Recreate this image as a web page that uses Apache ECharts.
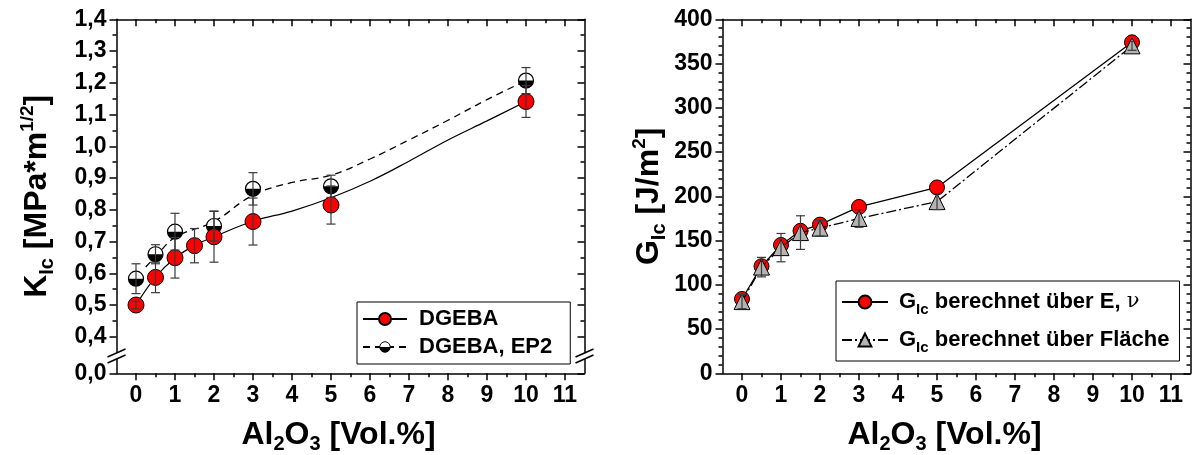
<!DOCTYPE html>
<html>
<head>
<meta charset="utf-8">
<script src="https://cdn.jsdelivr.net/npm/echarts@6/dist/echarts.min.js"></script>
<style>
  html, body { margin: 0; padding: 0; background: #fff; }
  #chart { width: 1192px; height: 455px; }
</style>
</head>
<body>
<div id="chart"></div>
<script>
// ---- axis ticks ----
const xMajor = [0, 1, 2, 3, 4, 5, 6, 7, 8, 9, 10, 11];
const xMinor = [0.5, 1.5, 2.5, 3.5, 4.5, 5.5, 6.5, 7.5, 8.5, 9.5, 10.5];
const kZero = 0.285;               // where the "0,0" tick sits below the axis break
const kMajor = [0.4, 0.5, 0.6, 0.7, 0.8, 0.9, 1.0, 1.1, 1.2, 1.3, 1.4];
const kMinor = [0.45, 0.55, 0.65, 0.75, 0.85, 0.95, 1.05, 1.15, 1.25, 1.35];
const gMajor = [0, 50, 100, 150, 200, 250, 300, 350, 400];
const gMinor = [10, 20, 30, 40, 60, 70, 80, 90, 110, 120, 130, 140, 160, 170, 180, 190,
  210, 220, 230, 240, 260, 270, 280, 290, 310, 320, 330, 340, 360, 370, 380, 390];

// ---- K_Ic (MPa*m^1/2) ----
const conc = [0, 0.5, 1, 1.5, 2, 3, 5, 10];
const kDgeba = [0.500, 0.587, 0.649, 0.687, 0.715, 0.763, 0.815, 1.141];
const kDgebaErr = [0.012, 0.048, 0.064, 0.054, 0.080, 0.074, 0.060, 0.050];
const concEp2 = [0, 0.5, 1, 2, 3, 5, 10];
const kEp2 = [0.583, 0.660, 0.731, 0.749, 0.866, 0.874, 1.207];
const kEp2Err = [0.047, 0.030, 0.058, 0.047, 0.051, 0.035, 0.041];

// trend curves through the K_Ic data
const fitDgebaX = [0, 0.5, 1, 1.5, 2, 3, 4, 5, 6, 7, 8, 9, 10];
const fitDgebaY = [0.500, 0.588, 0.648, 0.688, 0.715, 0.764, 0.796, 0.838, 0.890, 0.953, 1.020, 1.080, 1.141];
const fitEp2X = [0.25, 0.5, 1, 2, 3, 4, 5, 6, 7, 8, 9, 10];
const fitEp2Y = [0.620, 0.652, 0.713, 0.763, 0.846, 0.886, 0.909, 0.960, 1.020, 1.082, 1.147, 1.207];

// ---- G_Ic (J/m^2) ----
const gEv = [84, 121, 145, 161, 168, 188, 210, 374];
const gArea = [81, 120, 142, 159, 164, 175, 194, 370];
const gAreaErr = [8, 11, 16, 19, 9, 10, 9, 5];

const FONT = '"Liberation Sans", Arial, sans-serif';
const pairs = (xs, ys) => xs.map((x, i) => [x, ys[i]]);
const triples = (xs, ys, es) => xs.map((x, i) => [x, ys[i], es[i]]);
const comma = v => v.toFixed(1).replace('.', ',');

// half-filled legend icon: white upper half, black lower half
const halfSvg = "<svg xmlns='http://www.w3.org/2000/svg' width='32' height='32' viewBox='0 0 32 32'>" +
  "<path d='M2 16 A14 14 0 0 1 30 16 Z' fill='white'/>" +
  "<path d='M2 16 A14 14 0 0 0 30 16 Z' fill='black'/>" +
  "<circle cx='16' cy='16' r='14' fill='none' stroke='black' stroke-width='2.5'/></svg>";
const halfSymbol = 'image://data:image/svg+xml;charset=utf-8,' + encodeURIComponent(halfSvg);

// half-filled data marker drawn at the data coordinate
function halfMarker(params, api) {
  const p = api.coord([api.value(0), api.value(1)]);
  const r = 7.5;
  return {
    type: 'group',
    children: [
      { type: 'circle', shape: { cx: p[0], cy: p[1], r: r }, style: { fill: '#fff', stroke: 'none' } },
      { type: 'sector', shape: { cx: p[0], cy: p[1], r: r, r0: 0, startAngle: 0, endAngle: Math.PI, clockwise: true },
        style: { fill: '#000' } },
      { type: 'circle', shape: { cx: p[0], cy: p[1], r: r }, style: { fill: 'none', stroke: '#000', lineWidth: 1.2 } }
    ]
  };
}

function errorBars(color) {
  return function (params, api) {
    const x = api.value(0), y = api.value(1), e = api.value(2);
    const t = api.coord([x, y + e]);
    const b = api.coord([x, y - e]);
    const hw = 4.5;
    const st = { stroke: color, lineWidth: 1.2 };
    return {
      type: 'group',
      children: [
        { type: 'line', shape: { x1: t[0], y1: t[1], x2: b[0], y2: b[1] }, style: st },
        { type: 'line', shape: { x1: t[0] - hw, y1: t[1], x2: t[0] + hw, y2: t[1] }, style: st },
        { type: 'line', shape: { x1: b[0] - hw, y1: b[1], x2: b[0] + hw, y2: b[1] }, style: st }
      ]
    };
  };
}

const rich = {
  b: { fontFamily: FONT, fontWeight: 'bold', fontSize: 32, lineHeight: 34, color: '#000' },
  s: { fontFamily: FONT, fontWeight: 'bold', fontSize: 20, lineHeight: 20, padding: [19, 0, 0, 0], color: '#000' },
  p: { fontFamily: FONT, fontWeight: 'bold', fontSize: 19, lineHeight: 19, padding: [0, 0, 19, 0], color: '#000' }
};

const LINE = { color: '#000', width: 1.5 };
const axisBase = {
  type: 'value', splitLine: { show: false },
  axisLine: { show: false, onZero: false }, axisLabel: { show: false }, axisTick: { show: false }
};
const tickLabel = { fontFamily: FONT, fontWeight: 'bold', fontSize: 23, color: '#000' };

// one chart = 4 x axes (bottom major/minor, top major/minor) + 4 y axes (left/right)
function xAxes(grid, name) {
  const base = Object.assign({}, axisBase, { gridIndex: grid, min: -0.5, max: 11.5 });
  return [
    Object.assign({}, base, {
      position: 'bottom',
      axisLine: { show: true, onZero: false, lineStyle: LINE },
      axisTick: { show: true, length: 7, customValues: xMajor, lineStyle: LINE },
      axisLabel: Object.assign({ show: true, customValues: xMajor, margin: 11 }, tickLabel),
      name: name, nameLocation: 'middle', nameGap: 45,
      nameTextStyle: { rich: rich, padding: [0, 24, 0, 0] }
    }),
    Object.assign({}, base, {
      position: 'bottom',
      axisTick: { show: true, length: 4, customValues: xMinor, lineStyle: LINE }
    }),
    Object.assign({}, base, {
      position: 'top',
      axisLine: { show: true, onZero: false, lineStyle: LINE },
      axisTick: { show: true, inside: true, length: 7, customValues: xMajor, lineStyle: LINE }
    }),
    Object.assign({}, base, {
      position: 'top',
      axisTick: { show: true, inside: true, length: 4, customValues: xMinor, lineStyle: LINE }
    })
  ];
}

function yAxes(grid, min, max, major, minor, fmt, name, nameGap) {
  const base = Object.assign({}, axisBase, { gridIndex: grid, min: min, max: max });
  return [
    Object.assign({}, base, {
      position: 'left',
      axisLine: { show: true, onZero: false, lineStyle: LINE },
      axisTick: { show: true, length: 7, customValues: major, lineStyle: LINE },
      axisLabel: Object.assign({ show: true, customValues: major, margin: 10, formatter: fmt }, tickLabel),
      name: name, nameLocation: 'middle', nameRotate: 90, nameGap: nameGap, nameTextStyle: { rich: rich }
    }),
    Object.assign({}, base, {
      position: 'left',
      axisTick: { show: true, length: 4, customValues: minor, lineStyle: LINE }
    }),
    Object.assign({}, base, {
      position: 'right',
      axisLine: { show: true, onZero: false, lineStyle: LINE },
      axisTick: { show: true, inside: true, length: 7, customValues: major, lineStyle: LINE }
    }),
    Object.assign({}, base, {
      position: 'right',
      axisTick: { show: true, inside: true, length: 4, customValues: minor, lineStyle: LINE }
    })
  ];
}

const legendRich = {
  t: { fontFamily: FONT, fontWeight: 'bold', fontSize: 22, color: '#000' },
  g: { fontFamily: FONT, fontWeight: 'bold', fontSize: 22, lineHeight: 23, color: '#000' },
  s: { fontFamily: FONT, fontWeight: 'bold', fontSize: 15, lineHeight: 15, padding: [15, 0, 0, 0], color: '#000' },
  n: { fontFamily: '"DejaVu Serif", serif', fontSize: 21, lineHeight: 23, color: '#000' }
};

const NAME_EV = 'G_Ic E,nu';
const NAME_AREA = 'G_Ic Flaeche';
const legendText = {
  'DGEBA': '{t|DGEBA}',
  'DGEBA, EP2': '{t|DGEBA, EP2}',
  [NAME_EV]: '{g|G}{s|Ic}{g| berechnet über E, }{n|ν}',
  [NAME_AREA]: '{g|G}{s|Ic}{g| berechnet über Fläche}'
};

const option = {
  animation: false,
  backgroundColor: '#fff',
  grid: [
    { left: 116.5, top: 19.3, width: 468, height: 354, outerBoundsMode: 'none', containLabel: false },
    { left: 722.5, top: 19.3, width: 468, height: 354, outerBoundsMode: 'none', containLabel: false }
  ],
  xAxis: [].concat(
    xAxes(0, '{b|Al}{s|2}{b|O}{s|3}{b| [Vol.%]}'),
    xAxes(1, '{b|Al}{s|2}{b|O}{s|3}{b| [Vol.%]}')
  ),
  yAxis: [].concat(
    yAxes(0, kZero, 1.4, [kZero].concat(kMajor), kMinor,
      v => (Math.abs(v - kZero) < 1e-6 ? '0,0' : comma(v)),
      '{b|K}{s|Ic}{b| [MPa*m}{p|1/2}{b|]}', 62),
    yAxes(1, 0, 400, gMajor, gMinor, v => String(v), '{b|G}{s|Ic}{b| [J/m}{p|2}{b|]}', 56)
  ),
  legend: [
    {
      left: 357, top: 302, orient: 'vertical',
      data: ['DGEBA', 'DGEBA, EP2'],
      itemWidth: 44, itemHeight: 15, itemGap: 6,
      padding: [6, 18, 6, 5],
      borderColor: '#000', borderWidth: 1, backgroundColor: '#fff',
      formatter: n => legendText[n],
      textStyle: { rich: legendRich, padding: [0, 0, 0, 7] }
    },
    {
      left: 836, top: 281, orient: 'vertical',
      data: [NAME_EV, NAME_AREA],
      itemWidth: 46, itemHeight: 16, itemGap: 8,
      padding: [6, 10, 6, 5],
      borderColor: '#000', borderWidth: 1, backgroundColor: '#fff',
      formatter: n => legendText[n],
      textStyle: { rich: legendRich, padding: [0, 0, 0, 6] }
    }
  ],
  series: [
    // K_Ic trend curves (these also carry the legend entries)
    {
      name: 'DGEBA', type: 'line', xAxisIndex: 0, yAxisIndex: 0, smooth: 0.4,
      data: pairs(fitDgebaX, fitDgebaY), showSymbol: false,
      symbol: 'circle', symbolSize: 15,
      itemStyle: { color: '#ff0000', borderColor: '#000', borderWidth: 1 },
      lineStyle: { color: '#000', width: 1.2 }, z: 2
    },
    {
      name: 'DGEBA, EP2', type: 'line', xAxisIndex: 0, yAxisIndex: 0, smooth: 0.4,
      data: pairs(fitEp2X, fitEp2Y), showSymbol: false,
      symbol: halfSymbol, symbolSize: 15,
      itemStyle: { color: '#000' },
      lineStyle: { color: '#000', width: 1.3, type: [7, 5] }, z: 2
    },
    // K_Ic measurements
    {
      type: 'custom', xAxisIndex: 0, yAxisIndex: 0, data: pairs(concEp2, kEp2),
      renderItem: halfMarker, z: 3, silent: true
    },
    {
      type: 'scatter', xAxisIndex: 0, yAxisIndex: 0, data: pairs(conc, kDgeba),
      symbol: 'circle', symbolSize: 16,
      itemStyle: { color: '#ff0000', borderColor: '#000', borderWidth: 1, opacity: 1 }, z: 4, silent: true
    },
    {
      type: 'custom', xAxisIndex: 0, yAxisIndex: 0, data: triples(concEp2, kEp2, kEp2Err),
      renderItem: errorBars('#3a3a3a'), z: 5, silent: true
    },
    {
      type: 'custom', xAxisIndex: 0, yAxisIndex: 0, data: triples(conc, kDgeba, kDgebaErr),
      renderItem: errorBars('#3a3a3a'), z: 5, silent: true
    },
    // G_Ic
    {
      name: NAME_EV, type: 'line', xAxisIndex: 4, yAxisIndex: 4, data: pairs(conc, gEv),
      symbol: 'circle', symbolSize: 15,
      itemStyle: { color: '#ff0000', borderColor: '#000', borderWidth: 1 },
      lineStyle: { color: '#000', width: 1.3 }, z: 3
    },
    {
      name: NAME_AREA, type: 'line', xAxisIndex: 4, yAxisIndex: 4, data: pairs(conc, gArea),
      symbol: 'triangle', symbolSize: 16,
      itemStyle: { color: '#b4b4b4', borderColor: '#000', borderWidth: 1 },
      lineStyle: { color: '#000', width: 1.3, type: [10, 3, 2, 3] }, z: 4
    },
    {
      type: 'custom', xAxisIndex: 4, yAxisIndex: 4, data: triples(conc, gArea, gAreaErr),
      renderItem: errorBars('#3a3a3a'), z: 6, silent: true
    }
  ]
};

const chart = echarts.init(document.getElementById('chart'), null, { renderer: 'canvas' });
chart.setOption(option);

// axis-break marks on the left and right border of the K_Ic plot
const yHi = chart.convertToPixel({ yAxisIndex: 0 }, 0.349);
const yLo = chart.convertToPixel({ yAxisIndex: 0 }, 0.330);
const xL = chart.convertToPixel({ xAxisIndex: 0 }, -0.5);
const xR = chart.convertToPixel({ xAxisIndex: 0 }, 11.5);
const breakMarks = [];
[xL, xR].forEach(x => {
  breakMarks.push({ type: 'rect', shape: { x: x - 2, y: yHi, width: 4, height: yLo - yHi },
    style: { fill: '#fff' }, z: 100 });
  [yHi, yLo].forEach(y => {
    breakMarks.push({ type: 'line', shape: { x1: x - 9, y1: y + 4, x2: x + 9, y2: y - 4 },
      style: { stroke: '#000', lineWidth: 1.5 }, z: 101 });
  });
});
chart.setOption({ graphic: breakMarks });
</script>
</body>
</html>
